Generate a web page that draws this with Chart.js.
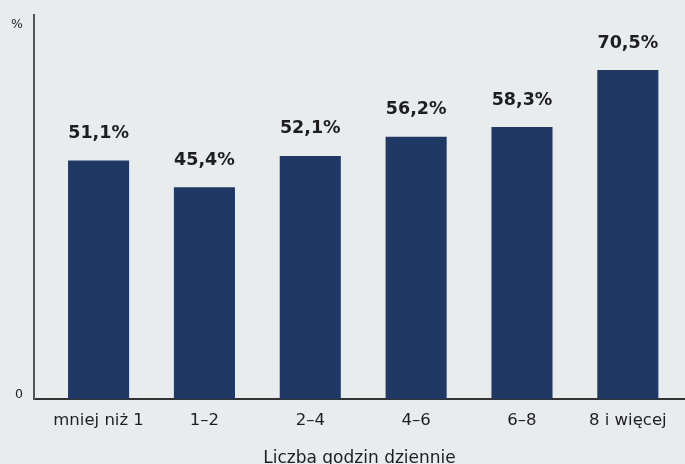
<!DOCTYPE html>
<html lang="pl">
<head>
<meta charset="utf-8">
<script src="https://cdn.jsdelivr.net/npm/chart.js@4.4.1/dist/chart.umd.min.js"></script>
<style>
  html, body { margin: 0; padding: 0; background: #e9eced; }
  #wrap { width: 685px; height: 464px; position: relative; }
</style>
</head>
<body>
<div id="wrap"><canvas id="chart"></canvas></div>
<script>
// ── Data ───────────────────────────────────────────────────────────────────
const categories = ['mniej niż 1', '1–2', '2–4', '4–6', '6–8', '8 i więcej'];
const shares     = [51.1, 45.4, 52.1, 56.2, 58.3, 70.5];
const yTickValues = [1, 80.3];   // '0' sits a little above the base line in the original
const yTickLabels = ['0', '%'];
const xTitle = 'Liczba godzin dziennie';

const NAVY = '#1f3864';
const TEXT = '#1e1e1e';
const FONT = '"DejaVu Sans"';

const fmtPct = v => v.toFixed(1).replace('.', ',') + '%';

// value labels above each bar
const barLabels = {
  id: 'barLabels',
  afterDatasetsDraw(chart) {
    const ctx = chart.ctx;
    const meta = chart.getDatasetMeta(0);
    ctx.save();
    ctx.font = 'bold 17.5px ' + FONT;
    ctx.fillStyle = TEXT;
    ctx.textAlign = 'center';
    ctx.textBaseline = 'middle';
    meta.data.forEach((bar, i) => {
      ctx.fillText(fmtPct(shares[i]), bar.x, bar.y - 27);
    });
    ctx.restore();
  }
};

new Chart(document.getElementById('chart'), {
  type: 'bar',
  data: {
    datasets: [{
      data: shares.map((v, i) => ({ x: i, y: v })),
      backgroundColor: NAVY,
      borderWidth: 0,
      barPercentage: 0.577,
      categoryPercentage: 1,
    }]
  },
  options: {
    responsive: true,
    maintainAspectRatio: false,
    animation: false,
    layout: { padding: { top: 15, right: 0, left: 0, bottom: 0 } },
    plugins: { legend: { display: false }, tooltip: { enabled: false } },
    scales: {
      x: {
        type: 'linear',
        offset: false,
        min: -0.61,
        max: 5.54,
        grid: { display: false, drawTicks: false },
        border: { display: true, color: '#333', width: 2 },
        afterBuildTicks: s => { s.ticks = categories.map((_, i) => ({ value: i })); },
        afterFit: s => { s.height = 65; },
        ticks: {
          autoSkip: false,
          maxRotation: 0,
          padding: 12,
          color: TEXT,
          font: { family: FONT, size: 16.5 },
          callback: v => categories[v],
        },
        title: {
          display: true,
          text: xTitle,
          color: TEXT,
          font: { family: FONT, size: 17, lineHeight: 1 },
          padding: { top: 0, bottom: -3 },
        },
      },
      y: {
        min: 0,
        max: 82.3,
        grid: { display: false, drawTicks: false },
        border: { display: true, color: '#555', width: 2 },
        afterBuildTicks: s => { s.ticks = yTickValues.map(v => ({ value: v })); },
        afterFit: s => { s.width = 34; s.paddingTop = 0; s.paddingBottom = 0; },
        ticks: {
          padding: 11,
          color: TEXT,
          font: { family: FONT, size: 12.5 },
          callback: (v, i) => yTickLabels[i],
        },
      },
    },
  },
  plugins: [barLabels],
});
</script>
</body>
</html>
